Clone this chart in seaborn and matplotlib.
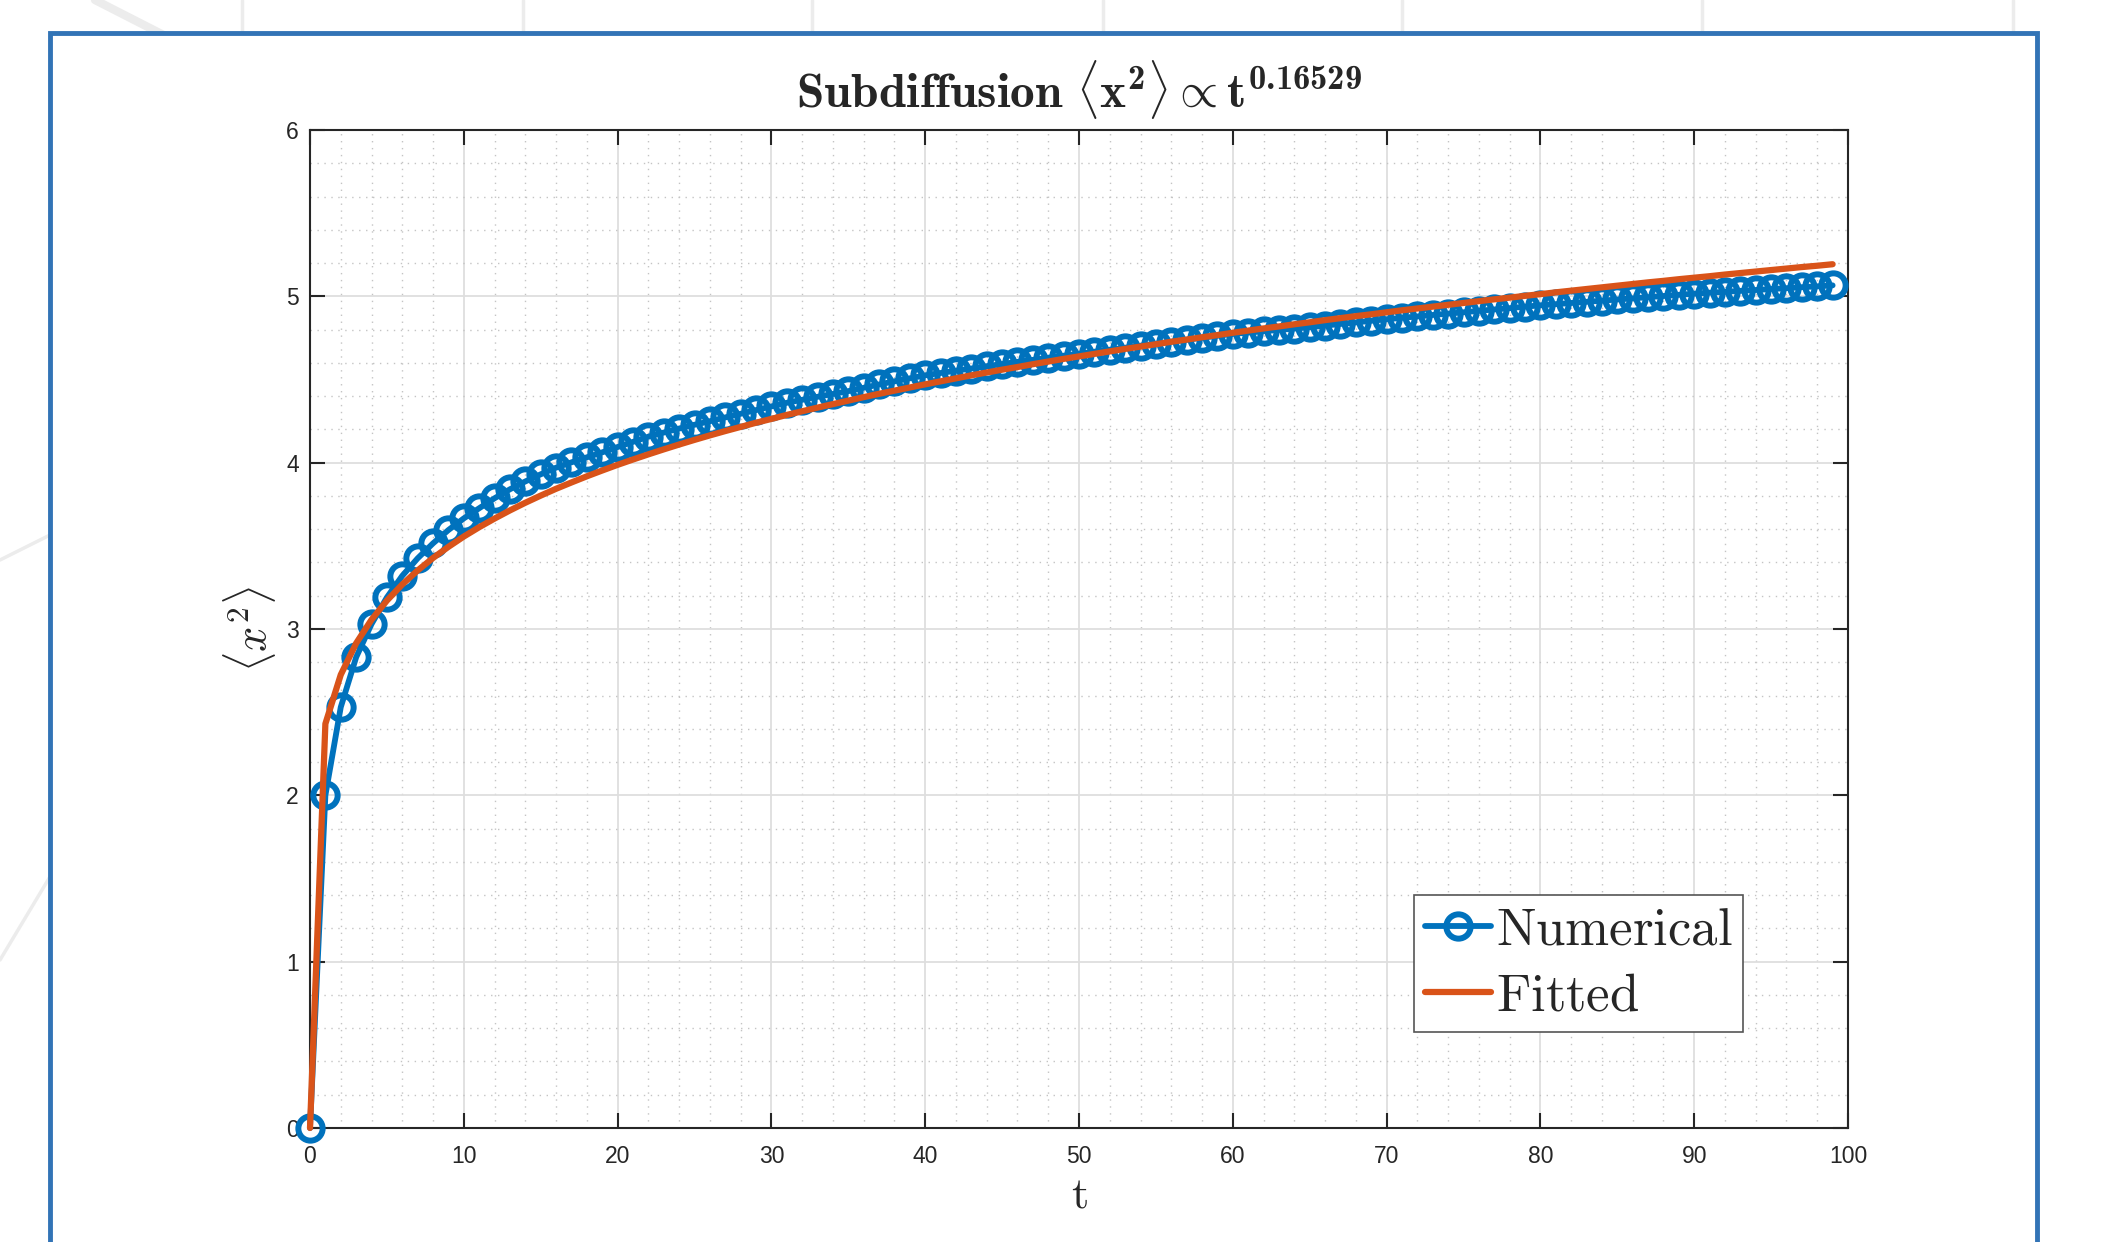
import matplotlib
matplotlib.use("Agg")
import matplotlib.pyplot as plt
import seaborn as sns
import numpy as np
import pandas as pd
from matplotlib.lines import Line2D
from matplotlib.patches import Rectangle
from matplotlib.ticker import MultipleLocator

# ---------------- data ----------------
t_values = list(range(0, 100))
numerical = [
    0.000, 2.000, 2.530, 2.830, 3.030, 3.190, 3.320, 3.425, 3.515, 3.595,
    3.665, 3.726, 3.786, 3.840, 3.887, 3.930, 3.970, 4.002, 4.032, 4.062,
    4.094, 4.125, 4.156, 4.181, 4.205, 4.228, 4.249, 4.272, 4.294, 4.316,
    4.338, 4.360, 4.378, 4.396, 4.413, 4.430, 4.450, 4.470, 4.489, 4.507,
    4.525, 4.539, 4.553, 4.566, 4.580, 4.593, 4.606, 4.618, 4.631, 4.643,
    4.655, 4.667, 4.679, 4.691, 4.703, 4.715, 4.727, 4.739, 4.751, 4.763,
    4.774, 4.782, 4.790, 4.798, 4.806, 4.814, 4.824, 4.834, 4.843, 4.853,
    4.862, 4.871, 4.879, 4.888, 4.896, 4.904, 4.913, 4.921, 4.929, 4.938,
    4.946, 4.953, 4.960, 4.967, 4.974, 4.981, 4.988, 4.995, 5.002, 5.009,
    5.016, 5.022, 5.027, 5.033, 5.038, 5.044, 5.049, 5.055, 5.060, 5.066,
]
fitted = [
    0.000, 2.430, 2.725, 2.914, 3.056, 3.171, 3.268, 3.352, 3.427, 3.494,
    3.556, 3.612, 3.664, 3.713, 3.759, 3.802, 3.843, 3.881, 3.918, 3.953,
    3.987, 4.019, 4.050, 4.080, 4.109, 4.137, 4.164, 4.190, 4.215, 4.240,
    4.263, 4.287, 4.309, 4.331, 4.352, 4.373, 4.394, 4.414, 4.433, 4.452,
    4.471, 4.489, 4.507, 4.525, 4.542, 4.559, 4.575, 4.592, 4.608, 4.624,
    4.639, 4.654, 4.669, 4.684, 4.698, 4.712, 4.727, 4.740, 4.754, 4.767,
    4.781, 4.794, 4.807, 4.819, 4.832, 4.844, 4.857, 4.869, 4.881, 4.892,
    4.904, 4.916, 4.927, 4.938, 4.949, 4.960, 4.971, 4.982, 4.992, 5.003,
    5.013, 5.024, 5.034, 5.044, 5.054, 5.064, 5.074, 5.084, 5.093, 5.103,
    5.112, 5.121, 5.131, 5.140, 5.149, 5.158, 5.167, 5.176, 5.184, 5.193,
]
x_ticks = [0, 10, 20, 30, 40, 50, 60, 70, 80, 90, 100]
y_ticks = [0, 1, 2, 3, 4, 5, 6]
series_labels = [r"$\mathrm{Numerical}$", r"$\mathrm{Fitted}$"]
title_text = (r"$\mathbf{Subdiffusion}\ \langle\mathbf{x}^{\mathbf{2}}\rangle"
              r"\propto\mathbf{t}^{\mathbf{0.16529}}$")

df = pd.DataFrame({"t": t_values, "numerical": numerical, "fitted": fitted})

# ---------------- style ----------------
sns.set_style("white")
plt.rcParams["font.family"] = ["Liberation Sans", "DejaVu Sans"]
plt.rcParams["mathtext.fontset"] = "custom"
plt.rcParams["mathtext.rm"] = "cmr10"
plt.rcParams["mathtext.it"] = "cmmi10"
plt.rcParams["mathtext.bf"] = "cmb10"
plt.rcParams["mathtext.sf"] = "cmss10"
plt.rcParams["mathtext.tt"] = "cmtt10"
plt.rcParams["mathtext.cal"] = "cmsy10"
plt.rcParams["mathtext.fallback"] = "cm"

W, H = 2104, 1242
fig = plt.figure(figsize=(W / 100, H / 100), dpi=100)
fig.patch.set_facecolor("white")

# faint background pattern outside the frame
bg = "#ececec"
for xv in [242, 523, 812, 1103, 1402, 1702, 2013]:
    fig.add_artist(Line2D([xv / W, xv / W], [1, 1 - 40 / H], color=bg, lw=2.5,
                          transform=fig.transFigure, zorder=-3))
fig.add_artist(Line2D([95 / W, 330 / W], [1, 1 - 120 / H], color=bg, lw=6,
                      transform=fig.transFigure, zorder=-3))
fig.add_artist(Line2D([0, 60 / W], [1 - 560 / H, 1 - 530 / H], color=bg, lw=2.5,
                      transform=fig.transFigure, zorder=-3))
fig.add_artist(Line2D([0, 60 / W], [1 - 960 / H, 1 - 860 / H], color=bg, lw=2.5,
                      transform=fig.transFigure, zorder=-3))

# blue frame
frame = Rectangle((50 / W, -0.05), (2037 - 50) / W, 1 - 33 / H + 0.05,
                  transform=fig.transFigure, facecolor="white",
                  edgecolor="#3274b6", lw=3.5, zorder=-1)
fig.add_artist(frame)

ax = fig.add_axes([310 / W, 1 - 1128 / H, 1538 / W, 998 / H])
ax.set_facecolor("white")

blue = "#0072BD"
red = "#D95319"
sns.lineplot(data=df, x="t", y="numerical", ax=ax, color=blue, lw=4.2,
             marker="o", markersize=17.5, markerfacecolor="none",
             markeredgecolor=blue, markeredgewidth=4.3, label=series_labels[0],
             clip_on=False, zorder=3)
sns.lineplot(data=df, x="t", y="fitted", ax=ax, color=red, lw=4.5,
             label=series_labels[1], clip_on=False, zorder=4)

ax.set_xlim(0, 100)
ax.set_ylim(0, 6)
ax.set_xticks(x_ticks)
ax.set_yticks(y_ticks)
ax.xaxis.set_minor_locator(MultipleLocator(2))
ax.yaxis.set_minor_locator(MultipleLocator(0.2))

ax.grid(which="major", color="#dedede", lw=1.3, ls="-")
ax.grid(which="minor", color="#c4c4c4", lw=1.0, ls=(0, (1, 4)))
ax.set_axisbelow(True)

for s in ax.spines.values():
    s.set_color("#262626")
    s.set_linewidth(1.5)
    s.set_visible(True)
ax.tick_params(which="major", direction="in", length=11, width=1.5,
               color="#262626", labelcolor="#262626", labelsize=16.5,
               top=True, right=True, bottom=True, left=True)
ax.tick_params(axis="x", which="major", pad=12.5)
ax.tick_params(axis="y", which="major", pad=8)
ax.tick_params(which="minor", length=0)

ax.set_xlabel(r"$\mathrm{t}$", fontsize=32)
ax.set_ylabel(r"$\langle x^2\rangle$", fontsize=32)
ax.xaxis.set_label_coords(0.5, (1128 - 1196) / 998)
ax.xaxis.label.set_va("center")
ax.yaxis.set_label_coords((250 - 310) / 1538, 0.5)
ax.yaxis.label.set_va("center")

ax.set_title(title_text, fontsize=35.5, pad=16)

leg = ax.legend(loc="upper left", bbox_to_anchor=(1414 / W, 1 - 895 / H),
                bbox_transform=fig.transFigure, borderaxespad=0,
                fontsize=38, handlelength=1.25, handletextpad=0.1,
                borderpad=0.2, labelspacing=0.3, frameon=True, fancybox=False,
                edgecolor="#555555", framealpha=1)
leg.get_frame().set_linewidth(1.2)

fig.savefig("out.png", dpi=100, facecolor="white")
